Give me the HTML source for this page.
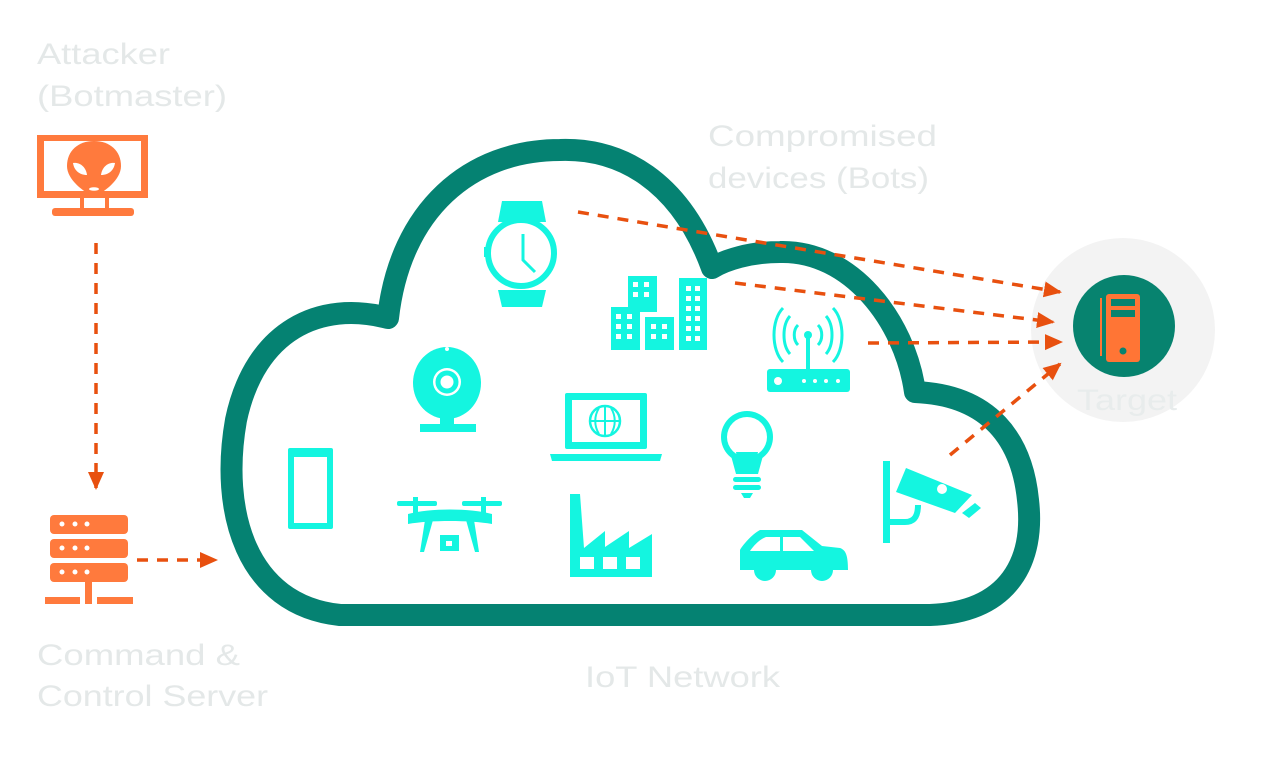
<!DOCTYPE html>
<html><head><meta charset="utf-8"><style>html,body{margin:0;padding:0;background:#fff;}svg{display:block}</style></head>
<body>
<svg width="1280" height="771" viewBox="0 0 1280 771" xmlns="http://www.w3.org/2000/svg">
<defs>
<marker id="ah2" markerWidth="18" markerHeight="18" refX="16" refY="9" orient="auto" markerUnits="userSpaceOnUse" viewBox="0 0 18 18">
<path d="M0,1 L18,9 L0,17 Z" fill="#e8500f"/>
</marker>
</defs>
<g font-family="'Liberation Sans', sans-serif" font-size="30" fill="#e4e8e8">
<text x="37" y="64" textLength="133" lengthAdjust="spacingAndGlyphs">Attacker</text>
<text x="37" y="106" textLength="190" lengthAdjust="spacingAndGlyphs">(Botmaster)</text>
<text x="37" y="665" textLength="203" lengthAdjust="spacingAndGlyphs">Command &amp;</text>
<text x="37" y="706" textLength="231" lengthAdjust="spacingAndGlyphs">Control Server</text>
<text x="585" y="687" textLength="195" lengthAdjust="spacingAndGlyphs">IoT Network</text>
<text x="708" y="146" textLength="229" lengthAdjust="spacingAndGlyphs">Compromised</text>
<text x="708" y="188" textLength="221" lengthAdjust="spacingAndGlyphs">devices (Bots)</text>
</g>
<!-- target -->
<circle cx="1123" cy="330" r="92" fill="#f3f3f3"/>
<circle cx="1124" cy="326" r="51" fill="#07836f"/>
<rect x="1106" y="294" width="34" height="68" rx="3" fill="#ff7535"/>
<rect x="1111" y="299" width="24" height="7" fill="#07836f"/>
<rect x="1111" y="310" width="24" height="7" fill="#07836f"/>
<circle cx="1123" cy="351" r="3.5" fill="#07836f"/>
<rect x="1100" y="298" width="2" height="58" fill="#ff7535"/>
<text x="1077" y="410" font-family="'Liberation Sans', sans-serif" font-size="30" fill="#e8ecec" textLength="100" lengthAdjust="spacingAndGlyphs">Target</text>
<!-- cloud -->
<path d="M 388 318 C 320 300, 255 330, 236 420 C 220 510, 245 605, 340 615 L 930 615 C 1010 612, 1035 560, 1028 500 C 1022 440, 990 395, 915 392 C 905 320, 850 250, 780 252 C 750 252, 725 260, 712 268 C 680 180, 620 148, 560 150 C 470 150, 400 210, 388 318 Z" fill="#fff" stroke="#058272" stroke-width="22" stroke-linejoin="round"/>
<!-- attacker monitor -->
<g fill="#ff7a3d">
<rect x="37" y="135" width="111" height="63"/>
<rect x="44" y="141" width="97" height="50" fill="#fff"/>
<rect x="80" y="198" width="4" height="10"/><rect x="105" y="198" width="4" height="10"/>
<rect x="52" y="208" width="82" height="8" rx="3"/>
<path d="M94 141 C 78 141, 67 151, 67 166 C 67 180, 84 192, 94 197 C 104 192, 121 180, 121 166 C 121 151, 110 141, 94 141 Z"/>
</g>
<path d="M73 163 C 80 162, 86 167, 87 175 C 79 175, 74 170, 73 163 Z" fill="#fff"/>
<path d="M115 163 C 108 162, 102 167, 101 175 C 109 175, 114 170, 115 163 Z" fill="#fff"/>
<ellipse cx="94" cy="189" rx="5" ry="1.8" fill="#fff"/>
<!-- server -->
<g fill="#ff7a3d">
<rect x="50" y="515" width="78" height="19" rx="4"/>
<rect x="50" y="539" width="78" height="19" rx="4"/>
<rect x="50" y="563" width="78" height="19" rx="4"/>
<rect x="85" y="582" width="7" height="15"/>
<rect x="45" y="597" width="35" height="7"/><rect x="85" y="597" width="7" height="7"/><rect x="97" y="597" width="36" height="7"/>
</g>
<g fill="#fff">
<circle cx="62" cy="524" r="2.5"/><circle cx="75" cy="524" r="2.5"/><circle cx="87" cy="524" r="2.5"/>
<circle cx="62" cy="548" r="2.5"/><circle cx="75" cy="548" r="2.5"/><circle cx="87" cy="548" r="2.5"/>
<circle cx="62" cy="572" r="2.5"/><circle cx="75" cy="572" r="2.5"/><circle cx="87" cy="572" r="2.5"/>
</g>
<!-- arrows -->
<g stroke="#e8500f" stroke-width="3.5" stroke-dasharray="11 9" fill="none">
<line x1="96" y1="243" x2="96" y2="488" marker-end="url(#ah2)"/>
<line x1="137" y1="560" x2="216" y2="560" marker-end="url(#ah2)"/>
<line x1="578" y1="212" x2="1060" y2="292" marker-end="url(#ah2)"/>
<line x1="735" y1="283" x2="1053" y2="322" marker-end="url(#ah2)"/>
<line x1="868" y1="343" x2="1061" y2="342" marker-end="url(#ah2)"/>
<line x1="950" y1="455" x2="1060" y2="364" marker-end="url(#ah2)"/>
</g>
<!-- icons -->
<g fill="#14f5e0" stroke="none">
<path d="M502 201 L542 201 L546 222 L498 222 Z"/>
<path d="M498 290 L546 290 L542 307 L502 307 Z"/>
<circle cx="521" cy="253" r="33" fill="none" stroke="#14f5e0" stroke-width="6"/>
<rect x="484" y="247" width="6" height="10"/>
<path d="M523 234 L523 260 L535 272" fill="none" stroke="#14f5e0" stroke-width="3"/>
<rect x="628" y="276" width="29" height="36"/>
<rect x="611" y="307" width="29" height="43"/>
<rect x="645" y="317" width="29" height="33"/>
<rect x="679" y="278" width="28" height="72"/>
<rect x="767" y="369" width="83" height="23" rx="3"/>
<rect x="806" y="336" width="4" height="34"/>
<circle cx="808" cy="335" r="4"/>
<ellipse cx="447" cy="383" rx="34" ry="36"/>
<rect x="440" y="415" width="14" height="10"/>
<path d="M420 432 L476 432 L476 424 L420 424 Z"/>
<rect x="565" y="393" width="82" height="56" rx="2"/>
<path d="M550 454 L662 454 L660 461 L552 461 Z"/>
<circle cx="747" cy="437" r="26"/>
<path d="M730 452 L764 452 L758 474 L736 474 Z"/>
<rect x="733" y="477" width="28" height="5" rx="2.5"/><rect x="733" y="485" width="28" height="5" rx="2.5"/>
<path d="M741 493 L753 493 L750 498 L744 498 Z"/>
<rect x="288" y="448" width="45" height="81" rx="2"/>
<rect x="397" y="501" width="40" height="5" rx="2"/><rect x="462" y="501" width="40" height="5" rx="2"/>
<rect x="413" y="497" width="5" height="18"/><rect x="481" y="497" width="5" height="18"/>
<path d="M408 514 C 430 508, 470 508, 492 514 L 492 524 C 470 520, 430 520, 408 524 Z"/>
<path d="M425 520 L433 520 L424 552 L420 552 Z"/>
<path d="M466 520 L474 520 L479 552 L475 552 Z"/>
<rect x="440" y="535" width="19" height="16"/>
<path d="M570 494 L580 494 L584 548 L605 531 L605 547 L629 531 L629 548 L652 534 L652 577 L570 577 Z"/>
<path d="M740 563 L740 550 C 742 546, 752 534, 760 530 L 802 530 L 822 546 L 840 548 C 846 550, 848 556, 848 570 L 740 570 Z"/>
<circle cx="765" cy="570" r="11"/><circle cx="822" cy="570" r="11"/>
<rect x="883" y="461" width="7" height="82"/>
<path d="M906 468 L972 495 L955 513 L896 492 Z"/>
<path d="M962 513 L975 503 L981 508 L969 518 Z"/>
</g>
<g fill="#fff">
<rect x="633" y="282" width="5" height="5"/><rect x="644" y="282" width="5" height="5"/><rect x="633" y="292" width="5" height="5"/><rect x="644" y="292" width="5" height="5"/>
<rect x="616" y="314" width="5" height="5"/><rect x="627" y="314" width="5" height="5"/><rect x="616" y="324" width="5" height="5"/><rect x="627" y="324" width="5" height="5"/><rect x="616" y="334" width="5" height="5"/><rect x="627" y="334" width="5" height="5"/>
<rect x="651" y="324" width="5" height="5"/><rect x="662" y="324" width="5" height="5"/><rect x="651" y="334" width="5" height="5"/><rect x="662" y="334" width="5" height="5"/>
<rect x="686" y="286" width="5" height="5"/><rect x="695" y="286" width="5" height="5"/><rect x="686" y="296" width="5" height="5"/><rect x="695" y="296" width="5" height="5"/><rect x="686" y="306" width="5" height="5"/><rect x="695" y="306" width="5" height="5"/><rect x="686" y="316" width="5" height="5"/><rect x="695" y="316" width="5" height="5"/><rect x="686" y="326" width="5" height="5"/><rect x="695" y="326" width="5" height="5"/><rect x="686" y="336" width="5" height="5"/><rect x="695" y="336" width="5" height="5"/>
<circle cx="778" cy="381" r="4"/><circle cx="804" cy="381" r="2"/><circle cx="815" cy="381" r="2"/><circle cx="826" cy="381" r="2"/><circle cx="838" cy="381" r="2"/>
<circle cx="447" cy="382" r="14"/>
<circle cx="447" cy="349" r="2"/>
<rect x="572" y="400" width="68" height="42"/>
<circle cx="747" cy="437" r="20"/>
<path d="M736 452 L758 452 L756 462 L738 462 Z" fill="#14f5e0"/>
<rect x="294" y="457" width="33" height="66"/>
<rect x="446" y="541" width="6" height="5"/>
<rect x="580" y="557" width="14" height="12"/><rect x="603" y="557" width="14" height="12"/><rect x="626" y="557" width="14" height="12"/>
<path d="M750 551 C 754 545, 760 539, 766 537 L 780 537 L 780 551 Z"/><path d="M783 537 L800 537 L814 551 L783 551 Z"/>
<circle cx="942" cy="489" r="5"/>
</g>
<g fill="none" stroke="#14f5e0">
<circle cx="447" cy="382" r="9" stroke-width="5"/>
<circle cx="605" cy="421" r="15" stroke-width="2.5"/>
<path d="M590 421 L620 421 M605 406 L605 436 M599 408 C 594 416, 594 426, 599 434 M611 408 C 616 416, 616 426, 611 434" stroke-width="2"/>
<path d="M798 325 C 793 330, 793 340, 798 345 M818 325 C 823 330, 823 340, 818 345" stroke-width="3"/>
<path d="M790 316 C 782 325, 782 345, 790 354 M826 316 C 834 325, 834 345, 826 354" stroke-width="3"/>
<path d="M783 308 C 771 320, 771 350, 783 362 M833 308 C 845 320, 845 350, 833 362" stroke-width="3"/>
<path d="M886 522 L905 522 C 915 522, 918 515, 918 505" stroke-width="6"/>
</g>
</svg>
</body></html>
